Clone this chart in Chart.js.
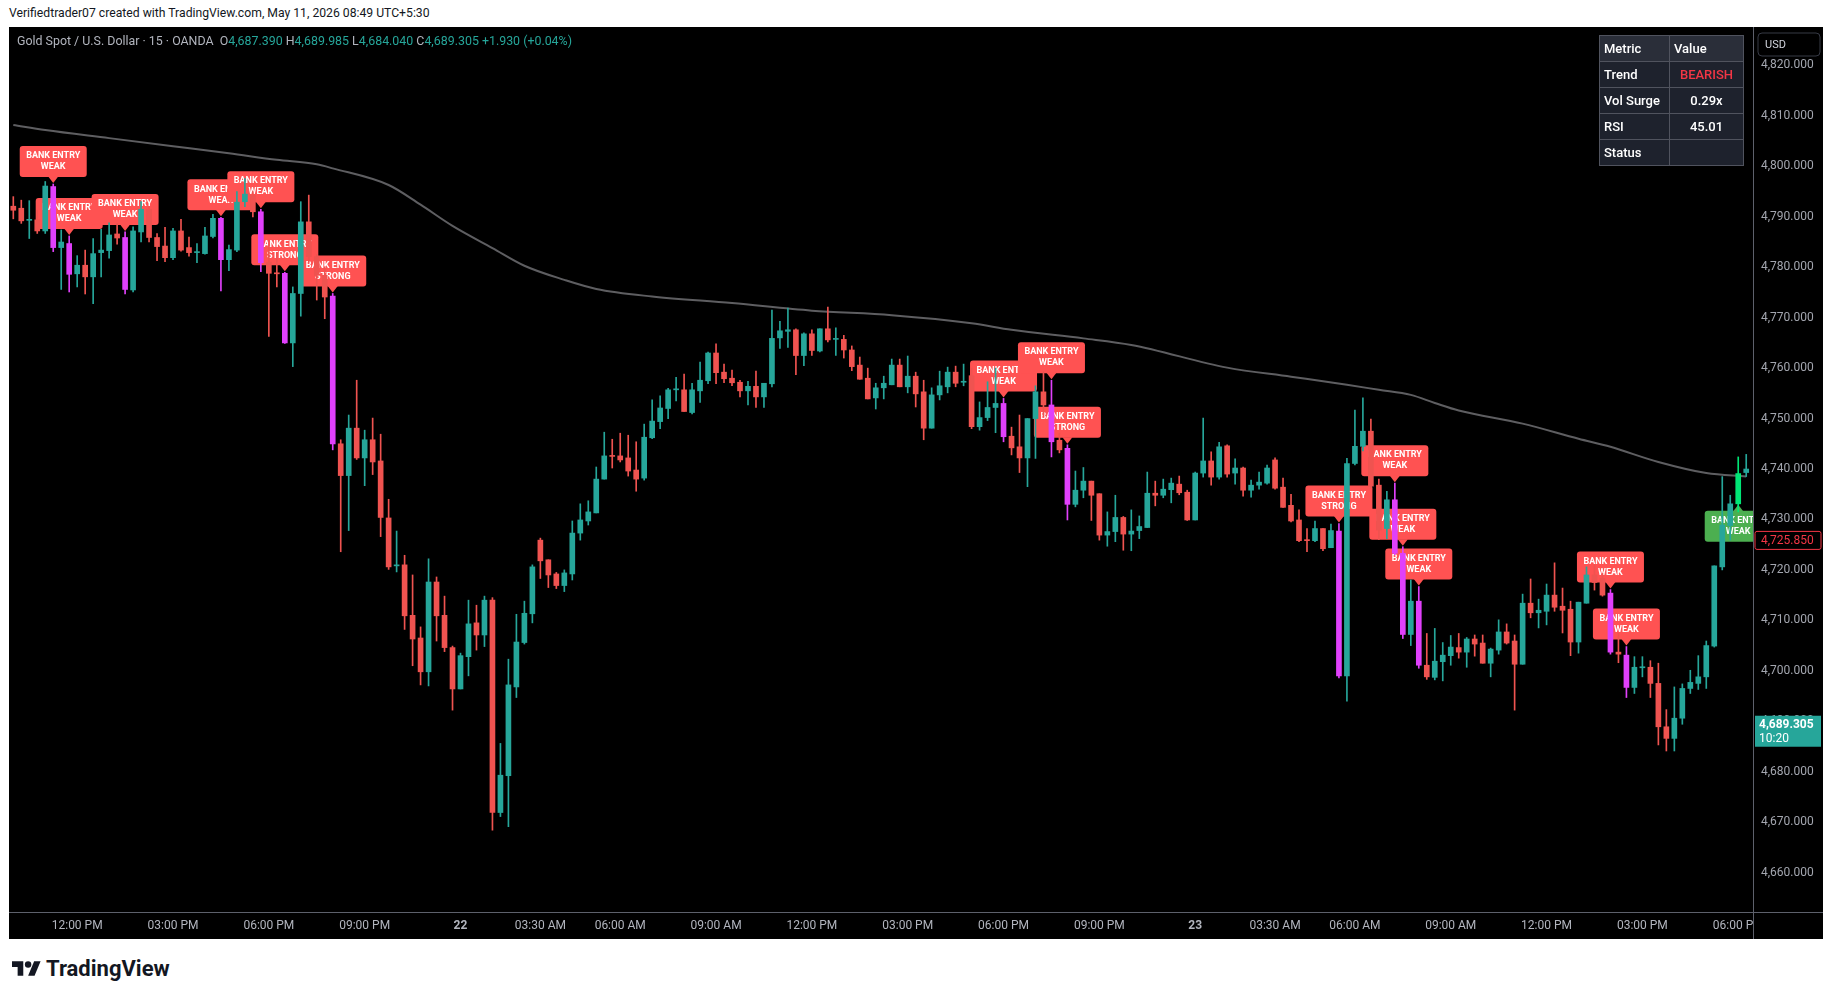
<!DOCTYPE html>
<html>
<head>
<meta charset="utf-8">
<script src="https://cdn.jsdelivr.net/npm/chart.js@4.4.1/dist/chart.umd.min.js"></script>
<style>
  html, body { margin: 0; padding: 0; background: #fff; width: 1835px; height: 1000px; overflow: hidden; font-family: Roboto, "Liberation Sans", sans-serif; }
  #credit { position: absolute; left: 9px; top: 6px; font-size: 12.2px; color: #131722; white-space: nowrap; }
  #frame { position: absolute; left: 9px; top: 27px; width: 1814px; height: 912px; background: #000; }
  #legend { position: absolute; left: 8px; top: 6px; font-size: 12.4px; color: #b2b5be; white-space: nowrap; z-index: 2; }
  #legend .v { color: #26a69a; }
  #stats { position: absolute; left: 1599px; top: 35px; border-collapse: collapse; font-size: 13px; font-weight: 500; color: #fff; z-index: 3; }
  #stats td { border: 1px solid #50535e; height: 25px; padding: 0 4px; background: #1e222d; }
  #stats tr.head td { background: #2a2e39; }
  #stats td.m { width: 61px; }
  #stats td.val { width: 65px; text-align: center; }
  #stats td.hv { text-align: left; }
  #logo { position: absolute; left: 12px; top: 956px; display: flex; align-items: center; gap: 5px; font-size: 22px; font-weight: bold; color: #131722; }
</style>
</head>
<body>
<div id="credit">Verifiedtrader07 created with TradingView.com, May 11, 2026 08:49 UTC+5:30</div>
<div id="frame">
  <div id="legend">Gold Spot / U.S. Dollar · 15 · OANDA &nbsp;O<span class="v">4,687.390</span> H<span class="v">4,689.985</span> L<span class="v">4,684.040</span> C<span class="v">4,689.305</span> <span class="v">+1.930 (+0.04%)</span></div>
  <canvas id="chart"></canvas>
</div>
<table id="stats">
  <tr class="head"><td class="m">Metric</td><td class="val hv">Value</td></tr>
  <tr><td class="m">Trend</td><td class="val" style="color:#f23645">BEARISH</td></tr>
  <tr><td class="m">Vol Surge</td><td class="val">0.29x</td></tr>
  <tr><td class="m">RSI</td><td class="val">45.01</td></tr>
  <tr><td class="m">Status</td><td class="val"></td></tr>
</table>
<div id="logo">
  <svg width="29" height="21" viewBox="0 0 36 26"><path d="M14 22H7V11H0V4h14v18z" fill="#131722"/><circle cx="20" cy="8" r="4" fill="#131722"/><path d="M28 22h-8l7.5-18h8L28 22z" fill="#131722"/></svg>
  <span>TradingView</span>
</div>
<script>
// 15 min candles, index 0 = 10:00 AM on the 21st
const opens = [4792.1,4791.7,4789.3,4789.4,4787.2,4796.0,4783.9,4784.7,4778.7,4780.4,4778.1,4782.9,4783.3,4786.6,4785.9,4775.5,4787.0,4791.5,4785.9,4784.2,
  4781.9,4787.2,4783.9,4782.9,4782.7,4786.1,4789.7,4781.5,4783.4,4793.0,4794.3,4791.0,4781.0,4778.8,4778.8,4765.0,4774.8,4789.0,4782.1,4778.4,
  4774.3,4745.0,4738.7,4748.1,4742.2,4745.8,4741.6,4730.3,4720.8,4721.0,4711.0,4706.5,4699.8,4717.6,4711.0,4704.6,4696.4,4702.8,4709.5,4707.1,
  4714.0,4671.9,4679.2,4696.8,4705.6,4711.3,4725.9,4722.0,4719.2,4716.9,4719.2,4727.3,4729.7,4731.3,4738.0,4742.6,4742.6,4742.2,4739.8,4738.2,
  4746.2,4749.4,4752.0,4755.7,4755.7,4751.2,4755.5,4757.5,4763.0,4759.2,4758.0,4757.2,4755.5,4756.4,4754.3,4756.9,4766.0,4767.3,4767.6,4762.5,
  4766.8,4763.4,4767.8,4765.7,4765.7,4763.6,4760.6,4758.0,4754.1,4756.1,4756.7,4760.6,4756.3,4758.4,4755.3,4748.1,4754.7,4756.3,4759.2,4757.2,
  4758.5,4748.4,4750.2,4752.2,4753.0,4746.5,4744.4,4742.2,4750.0,4755.3,4752.7,4745.7,4744.1,4733.0,4735.8,4737.6,4735.1,4726.9,4727.6,4730.4,
  4727.1,4727.8,4728.4,4735.2,4734.8,4735.9,4737.0,4735.4,4729.9,4739.2,4741.6,4738.4,4744.6,4739.2,4740.2,4735.8,4736.8,4737.2,4741.8,4736.4,
  4732.8,4729.9,4725.9,4725.8,4728.2,4724.4,4727.7,4699.0,4741.1,4744.5,4747.5,4736.8,4728.2,4733.9,4723.3,4707.2,4713.8,4701.1,4698.7,4701.8,
  4703.0,4704.6,4703.7,4706.3,4705.5,4701.5,4704.1,4707.7,4705.9,4701.3,4713.4,4711.5,4711.8,4715.0,4712.8,4712.2,4705.7,4713.4,4719.0,4718.3,
  4715.4,4703.7,4703.1,4696.7,4700.6,4700.7,4697.5,4688.9,4686.6,4690.6,4696.5,4697.5,4698.8,4704.9,4720.6,4728.8,4733.1,4739.3];
const highs = [4794.0,4793.3,4793.2,4791.3,4797.0,4796.5,4787.4,4786.2,4782.3,4783.4,4785.7,4787.5,4788.8,4788.7,4787.0,4788.0,4793.0,4792.0,4786.7,4787.9,
  4787.7,4789.5,4786.0,4784.7,4787.9,4790.5,4789.9,4784.4,4795.0,4797.6,4795.0,4791.5,4785.4,4782.9,4779.0,4776.1,4793.0,4794.3,4782.5,4780.1,
  4774.8,4745.8,4750.7,4757.6,4747.7,4750.1,4746.9,4734.0,4727.7,4722.9,4719.0,4708.7,4722.2,4718.6,4714.8,4704.9,4703.5,4714.0,4713.0,4714.8,
  4714.5,4685.6,4702.3,4711.2,4713.8,4721.0,4726.3,4722.0,4719.5,4720.0,4729.7,4733.1,4733.7,4740.4,4747.3,4745.9,4747.1,4746.7,4745.4,4748.9,
  4753.7,4754.5,4756.0,4758.2,4758.8,4757.0,4761.2,4763.2,4764.8,4760.8,4759.6,4757.6,4757.4,4759.4,4757.0,4771.5,4769.3,4771.9,4767.8,4767.0,
  4767.6,4767.8,4772.1,4768.0,4766.5,4764.4,4762.2,4760.0,4757.0,4758.4,4761.8,4761.8,4762.4,4759.2,4757.6,4756.1,4759.4,4760.2,4760.4,4760.8,
  4760.0,4753.3,4757.3,4760.0,4754.0,4748.3,4750.7,4750.0,4756.5,4759.3,4757.6,4747.1,4744.8,4739.6,4740.3,4737.6,4735.1,4731.5,4734.8,4730.6,
  4731.9,4730.7,4739.4,4737.6,4738.0,4738.2,4738.6,4735.8,4739.4,4750.1,4743.4,4745.3,4744.8,4742.0,4740.4,4737.8,4739.4,4740.8,4742.2,4738.2,
  4735.0,4731.9,4728.2,4729.7,4728.2,4729.1,4729.2,4742.1,4751.7,4754.1,4749.9,4738.0,4735.6,4737.2,4724.6,4718.0,4716.7,4707.4,4708.4,4705.6,
  4707.0,4707.4,4706.6,4707.1,4707.1,4704.5,4710.1,4709.3,4707.1,4715.2,4718.2,4714.2,4717.2,4721.4,4716.4,4713.8,4713.6,4720.6,4721.0,4719.3,
  4716.1,4707.4,4704.8,4702.8,4702.8,4702.0,4701.5,4692.3,4696.8,4697.4,4700.1,4703.0,4705.9,4720.8,4738.5,4734.8,4742.4,4742.9];
const lows = [4789.6,4788.7,4785.7,4786.7,4786.7,4783.1,4775.6,4775.1,4776.1,4774.7,4772.8,4778.1,4781.8,4784.6,4774.7,4775.1,4785.0,4785.0,4781.3,4781.1,
  4781.5,4783.2,4782.2,4780.9,4782.6,4785.8,4775.3,4779.3,4783.1,4792.0,4790.0,4779.1,4766.3,4776.1,4764.9,4760.3,4770.3,4781.0,4773.5,4769.8,
  4743.8,4723.6,4727.8,4741.9,4736.7,4738.9,4726.6,4720.1,4719.6,4708.2,4701.0,4697.2,4697.0,4705.9,4703.8,4692.2,4696.4,4699.0,4704.1,4704.8,
  4668.4,4671.1,4669.1,4694.7,4705.3,4709.5,4718.3,4716.5,4716.3,4715.7,4718.0,4725.9,4728.9,4731.3,4738.0,4740.2,4741.4,4738.6,4735.6,4737.8,
  4746.0,4748.0,4750.0,4753.5,4751.4,4750.9,4753.2,4756.9,4756.9,4757.1,4756.5,4754.3,4752.7,4752.2,4752.2,4756.3,4763.9,4764.1,4758.7,4760.5,
  4762.5,4763.2,4765.2,4762.5,4762.0,4759.5,4757.8,4753.9,4751.9,4753.9,4756.7,4756.3,4755.1,4752.3,4745.8,4748.1,4753.7,4755.1,4756.3,4756.5,
  4748.0,4747.7,4749.6,4747.2,4745.4,4742.8,4739.3,4736.5,4742.1,4750.5,4742.4,4743.2,4729.9,4732.5,4734.3,4729.8,4725.9,4724.7,4725.6,4723.9,
  4723.8,4726.2,4728.4,4732.7,4734.3,4733.3,4734.9,4729.8,4729.9,4738.4,4736.8,4738.0,4738.4,4737.0,4734.6,4734.4,4736.0,4737.0,4736.0,4732.4,
  4729.5,4725.6,4723.6,4725.6,4723.8,4724.4,4698.6,4694.0,4740.8,4743.6,4736.2,4726.0,4726.2,4723.0,4706.4,4705.0,4700.5,4698.3,4698.2,4698.0,
  4701.1,4702.5,4700.7,4702.9,4701.5,4698.8,4703.3,4705.3,4692.2,4701.3,4710.5,4708.5,4709.1,4711.8,4707.5,4703.0,4703.5,4713.4,4716.0,4714.8,
  4703.3,4701.6,4694.7,4695.5,4698.8,4694.7,4685.3,4684.1,4684.1,4689.4,4695.5,4696.3,4696.5,4704.7,4720.0,4725.9,4731.5,4738.5];
const closes = [4791.3,4789.2,4789.5,4787.2,4796.1,4783.9,4785.0,4778.6,4780.4,4778.1,4782.7,4783.4,4786.4,4785.8,4775.6,4787.2,4791.5,4785.9,4784.1,4781.9,
  4787.2,4783.4,4782.9,4783.0,4786.2,4789.7,4781.5,4783.5,4792.9,4794.5,4791.0,4780.9,4778.8,4778.7,4765.0,4774.8,4789.0,4782.1,4778.4,4774.1,
  4745.0,4738.7,4748.1,4742.2,4745.8,4741.4,4730.4,4720.6,4720.9,4710.9,4706.3,4699.8,4717.6,4710.9,4704.6,4696.4,4703.0,4709.3,4707.1,4714.0,
  4671.9,4679.3,4697.2,4705.7,4711.4,4720.6,4721.8,4719.0,4716.9,4719.4,4727.3,4729.9,4731.5,4738.0,4742.6,4742.5,4741.8,4739.6,4738.0,4746.3,
  4749.5,4752.1,4755.7,4755.8,4751.4,4755.7,4757.6,4763.0,4759.1,4757.9,4757.1,4755.5,4756.4,4754.3,4757.0,4765.9,4767.4,4767.6,4762.5,4766.8,
  4763.5,4767.8,4765.6,4765.8,4763.6,4760.3,4757.8,4753.9,4756.1,4757.0,4760.6,4756.3,4758.4,4754.9,4748.1,4754.7,4756.5,4759.2,4757.0,4757.3,
  4748.4,4750.2,4752.2,4753.0,4746.4,4744.2,4742.2,4750.0,4755.3,4752.7,4745.4,4743.8,4733.0,4735.8,4737.6,4734.8,4726.9,4727.6,4730.4,4727.1,
  4727.7,4728.6,4735.2,4734.8,4736.0,4737.2,4735.3,4729.9,4739.2,4741.6,4738.4,4744.4,4739.0,4740.2,4735.8,4736.8,4737.4,4740.2,4736.2,4732.4,
  4729.7,4725.8,4725.8,4728.2,4724.2,4727.8,4699.0,4741.1,4744.5,4747.5,4736.6,4727.9,4733.9,4723.3,4707.2,4713.8,4701.1,4698.8,4701.9,4703.1,
  4704.7,4703.7,4706.3,4705.3,4701.5,4704.3,4707.7,4705.5,4701.3,4713.4,4711.5,4712.0,4715.0,4712.6,4712.0,4705.7,4713.6,4719.0,4717.5,4715.0,
  4703.7,4703.3,4696.7,4700.7,4700.7,4697.5,4688.9,4686.6,4690.6,4696.5,4697.7,4698.8,4705.0,4720.8,4728.9,4733.1,4739.1,4740.0];

// slow moving average, read at a few candle positions
const maIdx = [0, 4, 12, 20, 27, 33, 38, 40, 47, 51, 55, 60, 64, 69, 73, 80, 90, 100, 110, 120, 125, 134, 140, 152, 160, 167, 171, 175, 178, 181, 189, 196, 200, 206, 212, 217];
const maVal = [4808.2, 4807.2, 4805.6, 4804.0, 4802.6, 4801.3, 4800.4, 4799.6, 4796.3, 4792.4, 4788.2, 4783.8, 4780.3, 4777.5, 4775.7, 4774.2, 4772.9, 4771.4, 4770.5, 4768.9, 4767.6, 4765.9, 4764.6, 4760.1, 4758.3, 4756.7, 4755.7, 4754.7, 4753.1, 4751.6, 4749.0, 4746.0, 4744.4, 4741.4, 4739.2, 4738.5];

// signal candles and labels
const magentaIdx = [5, 7, 14, 26, 31, 34, 40, 124, 130, 132, 166, 173, 174, 176, 200, 202];
const greenIdx = [216];
const labelIdx = [5, 7, 14, 26, 31, 34, 40, 124, 130, 132, 166, 173, 174, 176, 200, 202, 216];
const labelKind = ['WEAK', 'WEAK', 'WEAK', 'WEAK', 'WEAK', 'STRONG', 'STRONG', 'WEAK', 'WEAK', 'STRONG', 'STRONG', 'WEAK', 'WEAK', 'WEAK', 'WEAK', 'WEAK', 'WEAK'];

// time axis
const tickIdx = [8, 20, 32, 44, 56, 66, 76, 88, 100, 112, 124, 136, 148, 158, 168, 180, 192, 204, 216];
const tickText = ['12:00 PM', '03:00 PM', '06:00 PM', '09:00 PM', '22', '03:30 AM', '06:00 AM', '09:00 AM', '12:00 PM', '03:00 PM', '06:00 PM', '09:00 PM', '23', '03:30 AM', '06:00 AM', '09:00 AM', '12:00 PM', '03:00 PM', '06:00 PM'];

const lastPrice = 4689.305;
const countdown = '10:20';
const refLevel = 4725.85;

const TEAL = '#26a69a', RED = '#ef5350', MAGENTA = '#e040fb', LIME = '#00e676';
const LINE = '#5d606b';

function candleColor(i) {
  if (magentaIdx.includes(i)) return MAGENTA;
  if (greenIdx.includes(i)) return LIME;
  return closes[i] >= opens[i] ? TEAL : RED;
}
const colors = opens.map((_, i) => candleColor(i));
const fmt = v => v.toLocaleString('en-US', { minimumFractionDigits: 3, maximumFractionDigits: 3 });

function roundRect(ctx, x, y, w, h, r) {
  ctx.beginPath();
  ctx.moveTo(x + r, y);
  ctx.arcTo(x + w, y, x + w, y + h, r);
  ctx.arcTo(x + w, y + h, x, y + h, r);
  ctx.arcTo(x, y + h, x, y, r);
  ctx.arcTo(x, y, x + w, y, r);
  ctx.closePath();
}

const overlay = {
  id: 'overlay',
  beforeDatasetsDraw(chart) {
    const { ctx, chartArea: a, scales: { x, y } } = chart;
    ctx.save();
    ctx.beginPath();
    ctx.rect(a.left, a.top, a.right - a.left, a.bottom - a.top);
    ctx.clip();
    labelIdx.forEach((i, k) => {
      const up = greenIdx.includes(i);
      const px = x.getPixelForValue(i);
      // sell labels hang over the high, buy labels sit under the body
      const py = up ? y.getPixelForValue(Math.min(opens[i], closes[i])) + 1 : y.getPixelForValue(highs[i]) - 1;
      const w = 67, h = 31, ah = 6;
      const top = up ? py + ah : py - ah - h;
      ctx.fillStyle = up ? '#4caf50' : '#ff5252';
      roundRect(ctx, px - w / 2, top, w, h, 3);
      ctx.fill();
      ctx.beginPath();
      const base = up ? py + ah + 0.5 : py - ah - 0.5;
      ctx.moveTo(px, py);
      ctx.lineTo(px - 5, base);
      ctx.lineTo(px + 5, base);
      ctx.closePath();
      ctx.fill();
      ctx.fillStyle = '#ffffff';
      ctx.font = 'bold 9px Roboto, sans-serif';
      ctx.textAlign = 'center';
      ctx.textBaseline = 'middle';
      ctx.fillText('BANK ENTRY', px, top + 10);
      ctx.fillText(labelKind[k], px, top + 21);
    });
    ctx.restore();
  },
  afterDraw(chart) {
    const { ctx, chartArea: a, scales: { y }, width, height } = chart;
    ctx.save();
    // corner box under the price scale
    ctx.fillStyle = '#000';
    ctx.fillRect(a.right + 0.5, a.bottom + 0.5, width - a.right, height - a.bottom);
    ctx.strokeStyle = LINE;
    ctx.lineWidth = 1;
    ctx.beginPath();
    ctx.moveTo(Math.round(a.right) + 0.5, 0);
    ctx.lineTo(Math.round(a.right) + 0.5, height);
    ctx.moveTo(0, Math.round(a.bottom) + 0.5);
    ctx.lineTo(width, Math.round(a.bottom) + 0.5);
    ctx.stroke();

    // USD badge
    ctx.fillStyle = '#000';
    roundRect(ctx, a.right + 5, 6, 62, 23, 4);
    ctx.fill();
    ctx.strokeStyle = '#363a45';
    ctx.stroke();
    ctx.fillStyle = '#d1d4dc';
    ctx.font = '11px Roboto';
    ctx.textAlign = 'left';
    ctx.textBaseline = 'middle';
    ctx.fillText('USD', a.right + 12, 18);

    // reference level tag
    const ry = y.getPixelForValue(refLevel);
    ctx.fillStyle = '#000';
    roundRect(ctx, a.right + 2, ry - 9, 66, 18, 2);
    ctx.fill();
    ctx.strokeStyle = '#f23645';
    ctx.stroke();
    ctx.fillStyle = '#f23645';
    ctx.font = '12px Roboto';
    ctx.fillText(fmt(refLevel), a.right + 8, ry + 0.5);

    // last price tag
    const ly = y.getPixelForValue(lastPrice);
    ctx.fillStyle = '#26a69a';
    ctx.fillRect(a.right + 2, ly - 9, 66, 31);
    ctx.fillStyle = '#fff';
    ctx.font = 'bold 12px Roboto';
    ctx.fillText(fmt(lastPrice), a.right + 6, ly + 0.5);
    ctx.font = '12px Roboto';
    ctx.fillText(countdown, a.right + 6, ly + 14);
    ctx.restore();
  }
};

new Chart(document.getElementById('chart'), {
  type: 'bar',
  data: {
    datasets: [
      {
        type: 'line',
        label: 'MA',
        data: maIdx.map((v, k) => ({ x: v, y: maVal[k] })),
        borderColor: 'rgba(125,125,130,0.75)',
        borderWidth: 2,
        pointRadius: 0,
        cubicInterpolationMode: 'monotone',
        order: 3
      },
      {
        label: 'wick',
        data: opens.map((_, i) => ({ x: i, y: [lows[i], highs[i]] })),
        backgroundColor: colors,
        barThickness: 1,
        grouped: false,
        borderWidth: 0,
        order: 2
      },
      {
        label: 'body',
        data: opens.map((o, i) => ({ x: i, y: [o, closes[i]] })),
        backgroundColor: colors,
        barThickness: 5,
        minBarLength: 1,
        grouped: false,
        borderWidth: 0,
        order: 1
      }
    ]
  },
  options: {
    responsive: true,
    maintainAspectRatio: false,
    animation: false,
    events: [],
    layout: { padding: { left: 1 } },
    plugins: { legend: { display: false }, tooltip: { enabled: false } },
    scales: {
      x: {
        type: 'linear',
        min: -0.413,
        max: 217.85,
        offset: false,
        grid: { display: false, drawTicks: false },
        border: { display: true, color: LINE },
        afterBuildTicks: s => { s.ticks = tickIdx.map(v => ({ value: v })); },
        afterFit: s => { s.height = 27; s.paddingLeft = 0; s.paddingRight = 0; },
        ticks: {
          autoSkip: false,
          maxRotation: 0,
          padding: 7,
          color: '#b2b5be',
          font: c => ({ family: 'Roboto', size: 12, weight: (c.tick && (c.tick.value === 56 || c.tick.value === 148)) ? 'bold' : 'normal' }),
          callback: (v, k) => tickText[k]
        }
      },
      y: {
        position: 'right',
        min: 4652.18,
        max: 4827.63,
        grid: { display: false, drawTicks: false },
        border: { display: true, color: LINE },
        afterFit: s => { s.width = 70; s.paddingTop = 0; s.paddingBottom = 0; },
        ticks: {
          stepSize: 10,
          includeBounds: false,
          padding: 8,
          color: '#a3a6af',
          font: { family: 'Roboto', size: 12 },
          callback: v => fmt(v)
        }
      }
    }
  },
  plugins: [overlay]
});
</script>
</body>
</html>
